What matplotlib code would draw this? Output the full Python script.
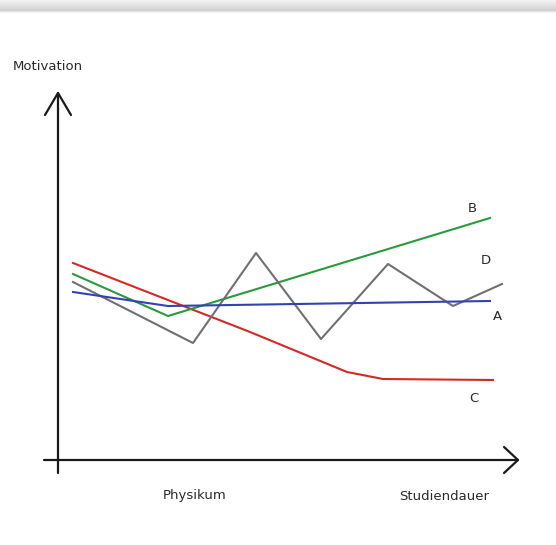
import matplotlib
matplotlib.use("Agg")
import matplotlib.pyplot as plt
import numpy as np

# time axis (arbitrary units from origin) and motivation values per line
c_x = [1.5, 19.2, 28.9, 32.5, 43.5]
c_y = [19.7, 12.8, 8.8, 8.1, 8.0]

b_x = [1.5, 11.0, 43.2]
b_y = [18.6, 14.4, 24.2]

a_x = [1.5, 11.0, 43.2]
a_y = [16.8, 15.4, 15.9]

d_x = [1.5, 13.5, 19.8, 26.3, 33.0, 39.5, 44.4]
d_y = [17.8, 11.7, 20.7, 12.1, 19.6, 15.4, 17.6]

line_names = ["A", "B", "C", "D"]
x_label = "Studiendauer"
y_label = "Motivation"
tick_label = "Physikum"
tick_pos = 13.7

W, H = 556, 545
fig = plt.figure(figsize=(W / 100, H / 100), dpi=100)
ax = fig.add_axes([0, 0, 1, 1])
ax.set_xlim(-5.8, 49.8)
ax.set_ylim(-8.5, 46.0)
ax.axis("off")

# grey header strip at the top
top = fig.add_axes([0, 1 - 14 / H, 1, 14 / H])
grad = np.concatenate([np.linspace(0.95, 0.82, 11), np.linspace(0.9, 1.0, 3)])
top.imshow(grad[:, None], cmap="gray", vmin=0, vmax=1, aspect="auto",
           extent=[0, 1, 0, 1])
top.axis("off")

# hand drawn style axes with open arrow heads
k = dict(color="#1a1a1a", lw=1.6, solid_capstyle="round", solid_joinstyle="round")
ax.plot([0, 0], [-1.3, 36.7], **k)
ax.plot([-1.4, 46.0], [0, 0], **k)
ax.plot([-1.3, 0, 1.3], [34.5, 36.7, 34.5], **k)
ax.plot([44.6, 46.0, 44.6], [1.3, 0, -1.3], **k)

lw = 1.5
ax.plot(c_x, c_y, color="#d42a24", lw=lw)
ax.plot(b_x, b_y, color="#2a9a3c", lw=lw)
ax.plot(d_x, d_y, color="#707070", lw=lw)
ax.plot(a_x, a_y, color="#3442b0", lw=lw)

fs = 9.5
tc = "#2a2a2a"
label_pos = {"B": (41.4, 25.2), "D": (42.8, 19.9), "A": (43.9, 14.3), "C": (41.6, 6.1)}
for name in line_names:
    x, y = label_pos[name]
    ax.text(x, y, name, ha="center", va="center", fontsize=fs, color=tc)

ax.text(-4.5, 39.4, y_label, ha="left", va="center", fontsize=fs, color=tc)
ax.text(tick_pos, -3.6, tick_label, ha="center", va="center", fontsize=fs, color=tc)
ax.text(38.6, -3.6, x_label, ha="center", va="center", fontsize=fs, color=tc)

fig.savefig("out.png", dpi=100)
